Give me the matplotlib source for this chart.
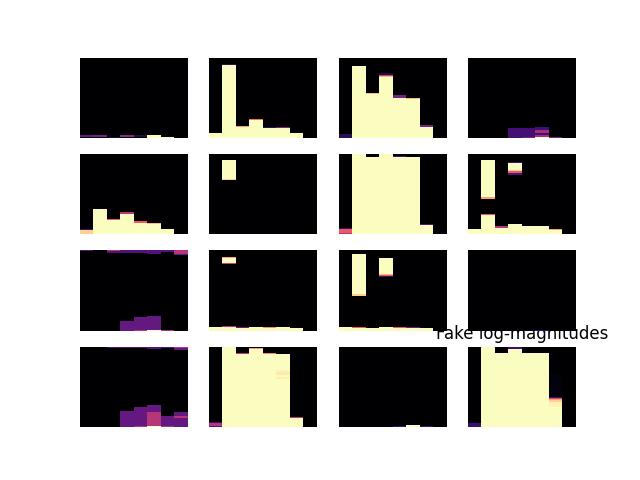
import numpy as np
import matplotlib
matplotlib.use('Agg')
import matplotlib.pyplot as plt

# each panel: 8 frequency columns, each a list of (rows, level) runs from the bottom
# levels are magma fractions: 0 black ... 1 pale yellow; rows above the runs are black
N_ROWS = 80
TITLE = 'Fake log-magnitudes'

p11 = [[(1, 0), (2, 0.3)], [(1, 0), (2, 0.35)], [(1, 0.1)], [(1, 0), (2, 0.4)],
       [(1, 0), (2, 0.12)], [(3, 1)], [(1, 1)], []]
p12 = [[(5, 1)], [(72, 1), (1, 0.15)], [(11, 1), (1, 0.8)], [(18, 1), (1, 0.7)],
       [(10, 1), (1, 0.15)], [(10, 1), (1, 0.35)], [(5, 1)], []]
p13 = [[(4, 0.15)], [(71, 1)], [(43, 1), (1, 0.85)],
       [(60, 1), (1, 0.85), (1, 0.55), (2, 0.12)], [(40, 1), (2, 0.35)],
       [(39, 1), (1, 0.85)], [(11, 1), (2, 0.35)], []]
p14 = [[], [], [], [(10, 0.22)], [(1, 0.35), (9, 0.22)],
       [(1, 1), (2, 0.45), (2, 0.22), (3, 0.45), (3, 0.22)], [(1, 0.35)], []]

p21 = [[(4, 0.9), (1, 0.2)], [(25, 1)], [(14, 1), (1, 0.65)], [(20, 1), (2, 0.5)],
       [(11, 1), (2, 0.65)], [(10, 1), (1, 0.85)], [(5, 1)], []]
p22 = [[], [(53, 0), (1, 0.9), (19, 1)], [], [], [], [], [], []]
p23 = [[(1, 0.5), (4, 0.65), (1, 0.2)], [(80, 1)], [(76, 1)], [(80, 1)],
       [(76, 1), (1, 0.25)], [(76, 1)], [(9, 1), (1, 0.25)], []]
p24 = [[(5, 1)], [(19, 1), (1, 0.65), (15, 0), (2, 0.8), (36, 1)], [(6, 1), (2, 0.5)],
       [(10, 1), (48, 0), (2, 0.25), (2, 0.65), (1, 0.9), (7, 1), (1, 0.2)],
       [(8, 1)], [(8, 1)], [(4, 1), (1, 0.8)], []]

p31 = [[(79, 0), (1, 0.25)], [], [(77, 0), (2, 0.25), (1, 0.5)],
       [(10, 0.3), (67, 0), (3, 0.25)], [(1, 0.5), (13, 0.3), (63, 0), (3, 0.25)],
       [(1, 1), (14, 0.3), (61, 0), (4, 0.25)], [(1, 0.5), (77, 0), (2, 0.25)],
       [(75, 0), (1, 0.3), (4, 0.5)]]
p32 = [[(4, 1)], [(4, 1), (1, 0.5), (61, 0), (1, 0.55), (5, 1), (1, 0.8)],
       [(3, 1), (1, 0.3)], [(4, 1)], [(3, 1), (1, 0.75)], [(4, 1)], [(3, 1)], []]
p33 = [[(4, 1)], [(3, 1), (1, 0.65), (31, 0), (2, 0.9), (39, 1)], [(3, 1)],
       [(4, 1), (49, 0), (1, 0.2), (1, 0.65), (1, 0.85), (16, 1)],
       [(3, 1), (1, 0.65)], [(3, 1), (1, 0.3)], [(3, 1)], []]
p34 = [[], [], [], [], [], [(1, 0.2)], [], []]

p41 = [[], [], [(78, 0), (2, 0.25)], [(16, 0.3), (62, 0), (2, 0.25)],
       [(1, 0.5), (19, 0.3), (58, 0), (2, 0.25)],
       [(1, 1), (14, 0.5), (7, 0.3), (55, 0), (3, 0.25)],
       [(1, 0.5), (10, 0.3), (67, 0), (2, 0.25)],
       [(9, 0.3), (2, 0.5), (4, 0.3), (61, 0), (2, 0.3), (2, 0.5)]]
p42 = [[(1, 0.25), (3, 0.5), (1, 0.2)], [(80, 1)], [(72, 1), (1, 0.5)],
       [(77, 1), (1, 0.8)], [(72, 1), (1, 0.75)],
       [(47, 1), (2, 0.97), (2, 0.99), (3, 0.96), (2, 0.98), (16, 1)],
       [(9, 1), (1, 0.5)], []]
p43 = [[], [], [], [], [(1, 0.2)], [(2, 1)], [(1, 0.2)], []]
p44 = [[(4, 0.2)], [(80, 1)], [(73, 1)], [(77, 1), (2, 0.2)], [(73, 1)], [(73, 1)],
       [(20, 1), (5, 0.98), (2, 0.9), (1, 0.8), (1, 0.6), (1, 0.2), (22, 0.03)], []]

panels = [p11, p12, p13, p14, p21, p22, p23, p24,
          p31, p32, p33, p34, p41, p42, p43, p44]


def to_image(columns):
    img = np.zeros((N_ROWS, len(columns)))
    for j, runs in enumerate(columns):
        levels = [lv for n, lv in runs for _ in range(n)]
        img[:len(levels), j] = levels
    return img


fig, axes = plt.subplots(4, 4, figsize=(6.4, 4.8), dpi=100)
for ax, columns in zip(axes.flat, panels):
    ax.imshow(to_image(columns), origin='lower', aspect='auto', cmap='magma',
              vmin=0, vmax=1, interpolation='nearest')
    ax.axis('off')

axes[3, 3].set_title(TITLE)
axes[2, 3].set_zorder(1)  # the panel above hides the top of the title

fig.savefig('out.png')
